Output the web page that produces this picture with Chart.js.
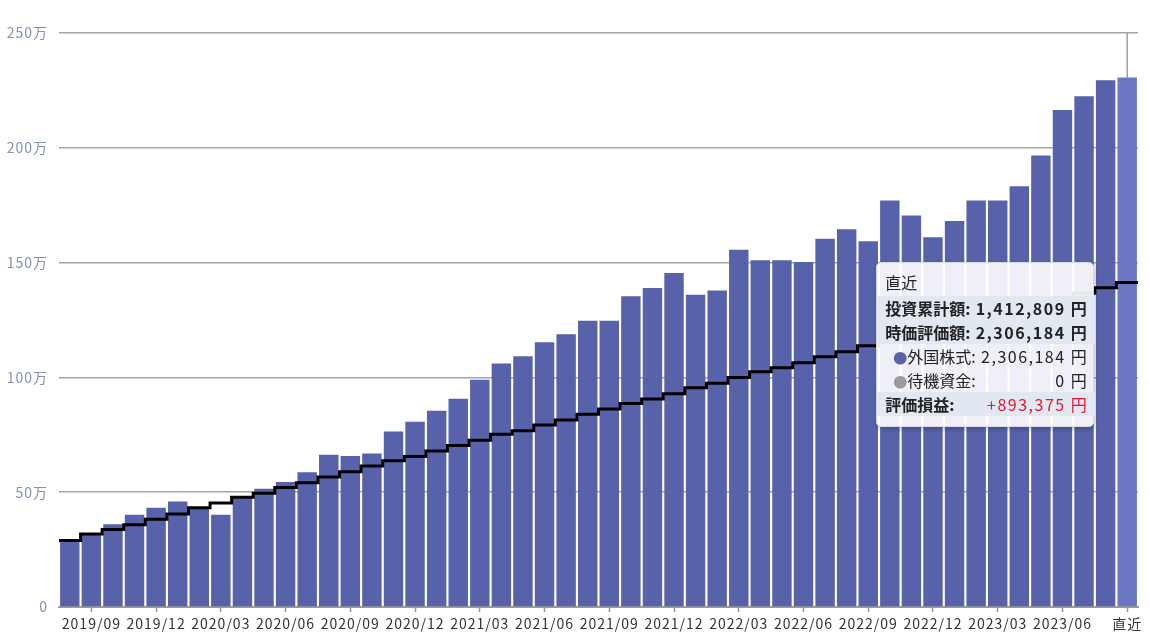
<!DOCTYPE html>
<html lang="ja">
<head>
<meta charset="utf-8">
<title>資産推移</title>
<script src="https://cdn.jsdelivr.net/npm/chart.js@4.4.0/dist/chart.umd.min.js"></script>
<style>
  html, body { margin: 0; padding: 0; background: #fff; }
  #wrap { position: relative; width: 1150px; height: 640px; }
  #tip {
    display: none;
    position: absolute;
    width: 216px;
    padding: 8px 0 10px 0;
    background: rgba(255, 255, 255, 0.9);
    border: 1px solid #d6dbe3;
    border-radius: 5px;
    box-shadow: 1px 2px 5px rgba(0, 0, 0, 0.25);
    font-family: "Noto Sans CJK JP", "Noto Sans", sans-serif;
    font-size: 16px;
    color: #222;
    line-height: 22px;
  }
  #tip .ttl { padding: 0 8px 3px 8px; }
  #tip table { width: 100%; border-collapse: collapse; }
  #tip td { padding: 0; height: 24px; white-space: nowrap; }
  #tip td.lb { padding-left: 8px; }
  #tip td.val { text-align: right; letter-spacing: 1.5px; }
  #tip td.unit { text-align: right; padding: 0 8px 0 5px; width: 1px; }
  #tip tr.band td { background: #e1e8f1; }
  #tip tr.b td { font-weight: bold; }
  #tip tr.b td.red { font-weight: normal; }
  #tip tr.sub td.lb { padding-left: 16px; }
  #tip .dot { font-size: 14px; }
  #tip .red { color: #e8132f; }
</style>
</head>
<body>
<div id="wrap">
  <canvas id="assetChart"></canvas>
  <div id="tip"></div>
</div>
<script>
// 月ラベル（最後は直近）
const months = [
  '2019/08', '2019/09', '2019/10', '2019/11', '2019/12',
  '2020/01', '2020/02', '2020/03', '2020/04', '2020/05', '2020/06',
  '2020/07', '2020/08', '2020/09', '2020/10', '2020/11', '2020/12',
  '2021/01', '2021/02', '2021/03', '2021/04', '2021/05', '2021/06',
  '2021/07', '2021/08', '2021/09', '2021/10', '2021/11', '2021/12',
  '2022/01', '2022/02', '2022/03', '2022/04', '2022/05', '2022/06',
  '2022/07', '2022/08', '2022/09', '2022/10', '2022/11', '2022/12',
  '2023/01', '2023/02', '2023/03', '2023/04', '2023/05', '2023/06',
  '2023/07', '2023/08', '直近'
];

// 時価評価額（外国株式）
const marketValue = [
  293000, 320000, 360000, 402000, 432000,
  460000, 435000, 402000, 480000, 515000, 544000,
  587000, 663000, 658000, 669000, 764000, 807000,
  855000, 907000, 990000, 1061000, 1092000, 1153000,
  1188000, 1247000, 1247000, 1353000, 1389000, 1455000,
  1360000, 1378000, 1556000, 1510000, 1510000, 1503000,
  1604000, 1645000, 1593000, 1771000, 1705000, 1610000,
  1681000, 1771000, 1771000, 1832000, 1967000, 2165000,
  2224000, 2294000, 2306184
];

// 投資累計額
const invested = [
  290000, 318000, 338000, 358000, 382000,
  405000, 432000, 453000, 478000, 495000, 520000,
  541000, 566000, 589000, 614000, 637000, 655000,
  679000, 703000, 726000, 752000, 768000, 793000,
  814000, 839000, 862000, 886000, 906000, 929000,
  955000, 974000, 1000000, 1025000, 1042000, 1064000,
  1090000, 1112000, 1138000, 1160000, 1184000, 1206000,
  1230000, 1252000, 1276000, 1298000, 1321000, 1344000,
  1367000, 1390000, 1412809
];

const cashValue = 0;
const yTickLabels = ['0', '50万', '100万', '150万', '200万', '250万'];

const barColor = '#5862aa';
const barHover = '#6b77c2';

function showLabel(i) {
  const m = months[i];
  return m === '直近' || /\/(03|06|09|12)$/.test(m);
}

const fmt = n => n.toLocaleString('ja-JP');

function externalTip(context) {
  const tip = document.getElementById('tip');
  const model = context.tooltip;
  if (model.opacity === 0 || !model.dataPoints || !model.dataPoints.length) {
    tip.style.display = 'none';
    return;
  }
  const i = model.dataPoints[0].dataIndex;
  const gain = marketValue[i] - invested[i];
  tip.innerHTML =
    '<div class="ttl">' + months[i] + '</div>' +
    '<table>' +
    '<tr class="band b"><td class="lb">投資累計額:</td><td class="val">' + fmt(invested[i]) + '</td><td class="unit">円</td></tr>' +
    '<tr class="band b"><td class="lb">時価評価額:</td><td class="val">' + fmt(marketValue[i]) + '</td><td class="unit">円</td></tr>' +
    '<tr class="sub"><td class="lb"><span class="dot" style="color:' + barColor + '">●</span>外国株式:</td><td class="val">' + fmt(marketValue[i]) + '</td><td class="unit">円</td></tr>' +
    '<tr class="sub"><td class="lb"><span class="dot" style="color:#9a9a9a">●</span>待機資金:</td><td class="val">' + fmt(cashValue) + '</td><td class="unit">円</td></tr>' +
    '<tr class="band b"><td class="lb">評価損益:</td><td class="val red">' + (gain >= 0 ? '+' : '') + fmt(gain) + '</td><td class="unit red">円</td></tr>' +
    '</table>';
  tip.style.display = 'block';
  tip.style.left = (model.caretX - 251) + 'px';
  tip.style.top = '262px';
}

// ホバー中のバーの上に縦線
const crosshair = {
  id: 'crosshair',
  beforeDatasetsDraw(chart) {
    const act = chart.getActiveElements();
    if (!act.length) return;
    const x = act[0].element.x;
    const ctx = chart.ctx;
    ctx.save();
    ctx.strokeStyle = '#a0a0a0';
    ctx.lineWidth = 1.5;
    ctx.beginPath();
    ctx.moveTo(x, chart.chartArea.top);
    ctx.lineTo(x, chart.chartArea.bottom);
    ctx.stroke();
    ctx.restore();
  }
};

// 目盛り文字を少し広げる
const spacing = {
  id: 'spacing',
  beforeDraw(chart) { chart.ctx.letterSpacing = '1px'; },
  afterDraw(chart) { chart.ctx.letterSpacing = '0px'; }
};

Chart.defaults.font.family = '"Noto Sans CJK JP", "Noto Sans", sans-serif';

const linePoints = invested.map((v, i) => ({ x: i - 0.5, y: v }));
linePoints.push({ x: invested.length - 0.5, y: invested[invested.length - 1] });

const chart = new Chart(document.getElementById('assetChart'), {
  type: 'bar',
  data: {
    labels: months,
    datasets: [
      {
        type: 'bar',
        label: '外国株式',
        data: marketValue,
        backgroundColor: barColor,
        hoverBackgroundColor: barHover,
        barPercentage: 0.9,
        categoryPercentage: 1,
        grouped: false,
        order: 1
      },
      {
        type: 'line',
        label: '投資累計額',
        data: linePoints,
        xAxisID: 'x2',
        borderColor: '#000',
        borderWidth: 3,
        stepped: true,
        pointRadius: 0,
        pointHoverRadius: 0,
        fill: false,
        order: 0
      }
    ]
  },
  options: {
    responsive: true,
    maintainAspectRatio: false,
    animation: false,
    events: [],
    layout: { padding: { top: 33, right: 12, left: 0, bottom: 0 } },
    plugins: {
      legend: { display: false },
      tooltip: { enabled: false, external: externalTip }
    },
    scales: {
      x: {
        type: 'category',
        offset: true,
        afterFit: s => { s.height = 33; },
        border: { display: true, color: '#9a9a9a', width: 2 },
        grid: {
          display: true,
          offset: false,
          drawOnChartArea: false,
          drawTicks: true,
          tickLength: 5,
          tickWidth: 1.5,
          tickColor: ctx => showLabel(ctx.index) ? '#9a9a9a' : 'rgba(0,0,0,0)'
        },
        ticks: {
          autoSkip: false,
          maxRotation: 0,
          padding: 3,
          color: '#333',
          font: { size: 14 },
          callback: (v, i) => showLabel(i) ? months[i] : ''
        }
      },
      x2: {
        type: 'linear',
        display: false,
        offset: false,
        min: -0.5,
        max: months.length - 0.5
      },
      y: {
        min: 0,
        max: 2500000,
        afterFit: s => { s.width = 59; },
        border: { display: false },
        grid: { color: '#a3a3a3', lineWidth: 1.5, drawTicks: false },
        ticks: {
          stepSize: 500000,
          padding: 11,
          color: '#8391b3',
          font: { size: 14 },
          callback: (v, i) => yTickLabels[i]
        }
      }
    }
  },
  plugins: [crosshair, spacing]
});

const last = months.length - 1;
chart.setActiveElements([{ datasetIndex: 0, index: last }]);
chart.tooltip.setActiveElements([{ datasetIndex: 0, index: last }], { x: 0, y: 0 });
chart.update();
</script>
</body>
</html>
